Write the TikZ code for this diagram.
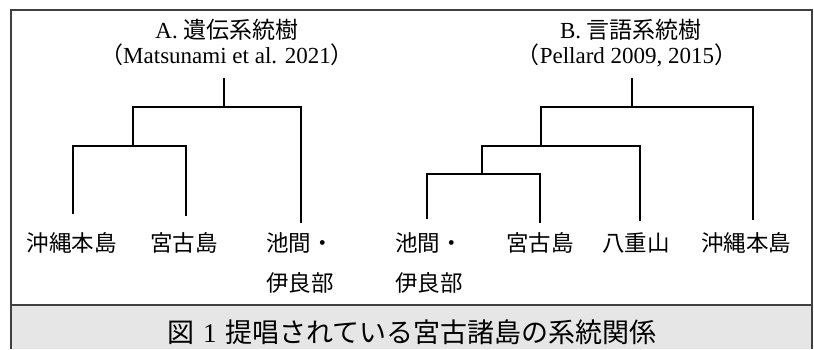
\documentclass[tikz,border=0pt]{standalone}
\usepackage{fontspec}
\setmainfont{Liberation Serif}
\newfontfamily\jp{Noto Sans CJK JP}
\definecolor{capfill}{HTML}{E6E6E6}
\definecolor{framec}{HTML}{404040}
\tikzset{
  branch/.style={line width=2.9pt, line join=miter, line cap=rect},
  lbl/.style={inner sep=0pt, font=\fontsize{22.5}{27}\selectfont},
  ttl/.style={inner sep=0pt, font=\fontsize{23}{28}\selectfont},
}
\begin{document}
\begin{tikzpicture}[x=1pt,y=-1pt]
\useasboundingbox (0,0) rectangle (814,349);
% frame and caption band
\fill[capfill] (11,305) rectangle (812,349);
\draw[framec, line width=1.1pt] (11,349) -- (11,10) -- (812,10) -- (812,349);
\draw[framec, line width=1.1pt] (11,305) -- (812,305);
\node[inner sep=0pt, font=\fontsize{27}{32}\selectfont] (cap) at (412,332) {{\jp 図}\hspace{9pt}1\hspace{9pt}{\jp 提唱されている宮古諸島の系統関係}};
% titles
\node[ttl] (tA1) at (227,30) {A. {\jp 遺伝系統樹}};
\node[ttl] (tA2) at (227,55) {{\jp （}Matsunami et al. 2021{\jp ）}};
\node[ttl] (tB1) at (631,30) {B. {\jp 言語系統樹}};
\node[ttl] (tB2) at (627,55) {{\jp （}Pellard 2009, 2015{\jp ）}};
% tree A coordinates
\coordinate (ar) at (224,79);
\coordinate (aj) at (224,107);
\coordinate (ajl) at (133,107);
\coordinate (ajr) at (301,107);
\coordinate (ak) at (133,146);
\coordinate (akl) at (73,146);
\coordinate (akr) at (186,146);
\coordinate (a1) at (73,213);
\coordinate (a2) at (186,215);
\coordinate (a3) at (301,222);
\draw[branch] (ar) -- (aj);
\draw[branch] (a3) -- (ajr) -- (ajl) -- (ak);
\draw[branch] (a1) -- (akl) -- (akr) -- (a2);
% tree A labels
\node[lbl] (la1) at (72,243) {\jp 沖縄本島};
\node[lbl] (la2) at (184,243) {\jp 宮古島};
\node[lbl, anchor=west] (la3) at (266,243) {\jp 池間・};
\node[lbl, anchor=west] (la3b) at (266,283) {\jp 伊良部};
% tree B coordinates
\coordinate (br) at (632,79);
\coordinate (bj) at (632,107);
\coordinate (bjl) at (541,107);
\coordinate (bjr) at (753,107);
\coordinate (bk) at (541,146);
\coordinate (bkl) at (482,146);
\coordinate (bkr) at (640,146);
\coordinate (bm) at (482,174);
\coordinate (bml) at (427,174);
\coordinate (bmr) at (540,174);
\coordinate (b1) at (427,218);
\coordinate (b2) at (540,222);
\coordinate (b3) at (640,220);
\coordinate (b4) at (753,219);
\draw[branch] (br) -- (bj);
\draw[branch] (b4) -- (bjr) -- (bjl) -- (bk);
\draw[branch] (bm) -- (bkl) -- (bkr) -- (b3);
\draw[branch] (b1) -- (bml) -- (bmr) -- (b2);
% tree B labels
\node[lbl, anchor=west] (lb1) at (395,243) {\jp 池間・};
\node[lbl, anchor=west] (lb1b) at (395,283) {\jp 伊良部};
\node[lbl] (lb2) at (540,243) {\jp 宮古島};
\node[lbl] (lb3) at (636,243) {\jp 八重山};
\node[lbl] (lb4) at (746,243) {\jp 沖縄本島};
\end{tikzpicture}
\end{document}
